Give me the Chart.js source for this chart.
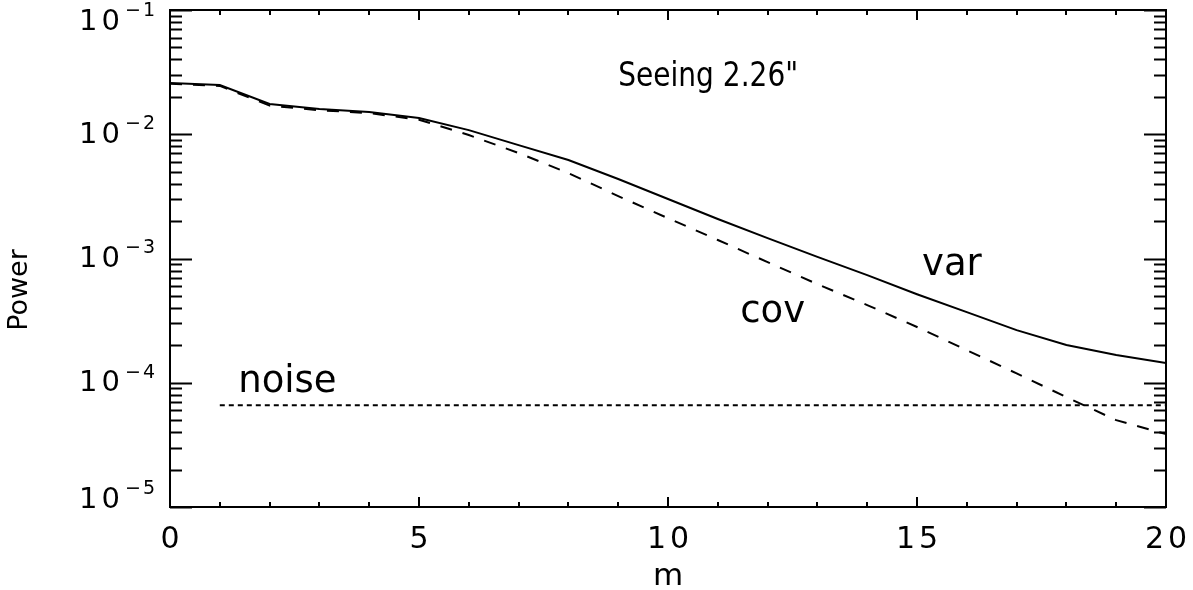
<!DOCTYPE html>
<html>
<head>
<meta charset="utf-8">
<script src="https://cdn.jsdelivr.net/npm/chart.js@4.4.1/dist/chart.umd.min.js"></script>
<style>
  html, body { margin: 0; padding: 0; background: #ffffff; overflow: hidden; }
  #wrap { width: 1193px; height: 590px; position: relative; }
</style>
</head>
<body>
<div id="wrap"><canvas id="powerChart"></canvas></div>
<script>
// Azimuthal mode number m
const modes = [0, 1, 2, 3, 4, 5, 6, 7, 8, 9, 10, 11, 12, 13, 14, 15, 16, 17, 18, 19, 20];

// Power spectrum from the variance of the modes
const varPower = [0.0258, 0.0249, 0.0175, 0.0160, 0.0151, 0.0135, 0.0108, 0.00818, 0.00620, 0.00436,
                  0.00301, 0.00208, 0.00146, 0.00103, 0.000735, 0.000516, 0.000370, 0.000265, 0.000201, 0.000167, 0.000144];

// Power spectrum from the covariance of the modes
const covPower = [0.0255, 0.0245, 0.0170, 0.0156, 0.0148, 0.0131, 0.00986, 0.00706, 0.00487, 0.00318,
                  0.00211, 0.00141, 0.000935, 0.000622, 0.000422, 0.000281, 0.000183, 0.000119, 0.0000766, 0.0000500, 0.0000386];

// Noise floor, flat over m = 1..20
const noiseModes = [1, 20];
const noisePower = [0.000066, 0.000066];

// Axis ticks and titles
const xTickValues = [0, 5, 10, 15, 20];
const yDecadeExponents = [-5, -4, -3, -2, -1];
const xTitle = 'm';
const yTitle = 'Power';

// Text inside the plot: left end and baseline in data coordinates
const plotTexts = [
  { text: 'Seeing 2.26"', m: 9.0, p: 0.0245, size: 33, squeeze: 0.85 },
  { text: 'var', m: 15.1, p: 0.000735, size: 37, squeeze: 1 },
  { text: 'cov', m: 11.45, p: 0.000308, size: 37, squeeze: 1 },
  { text: 'noise', m: 1.37, p: 0.000084, size: 37, squeeze: 1 }
];

const FONT = "'DejaVu Sans', 'Liberation Sans', sans-serif";
const INK = '#000000';

function setSpacing(ctx, px) {
  if ('letterSpacing' in ctx) ctx.letterSpacing = px + 'px';
}

// Frame, inward tick marks on all four sides, axis labels and in-plot text
const framePlugin = {
  id: 'framePlugin',
  afterDraw(chart) {
    const ctx = chart.ctx;
    const a = chart.chartArea;
    const xs = chart.scales.x;
    const ys = chart.scales.y;
    ctx.save();
    ctx.strokeStyle = INK;
    ctx.lineWidth = 2;
    ctx.lineCap = 'butt';

    ctx.beginPath();
    // x ticks: major every 5, minor every 1
    for (let v = xs.min; v <= xs.max; v += 1) {
      const px = Math.round(xs.getPixelForValue(v));
      const len = (v % 5 === 0) ? 10 : 5;
      ctx.moveTo(px, a.bottom); ctx.lineTo(px, a.bottom - len);
      ctx.moveTo(px, a.top); ctx.lineTo(px, a.top + len);
    }
    // y ticks: decades long, 2..9 short
    for (let e = yDecadeExponents[0]; e <= yDecadeExponents[yDecadeExponents.length - 1]; e++) {
      for (let k = 1; k <= 9; k++) {
        const val = k * Math.pow(10, e);
        if (val < ys.min * 0.999 || val > ys.max * 1.001) continue;
        const py = Math.round(ys.getPixelForValue(val)) + 0.5;
        const len = (k === 1) ? 22 : 12;
        ctx.moveTo(a.left, py); ctx.lineTo(a.left + len, py);
        ctx.moveTo(a.right, py); ctx.lineTo(a.right - len, py);
      }
    }
    ctx.stroke();

    // frame
    ctx.strokeRect(a.left, a.top, a.right - a.left, a.bottom - a.top);

    ctx.fillStyle = INK;

    // decade labels 10^e on the left axis
    ctx.textBaseline = 'middle';
    ctx.textAlign = 'right';
    const rightEdge = a.left - 13;
    yDecadeExponents.forEach(e => {
      let py = ys.getPixelForValue(Math.pow(10, e));
      py = Math.min(Math.max(py, a.top + 11), a.bottom - 8);
      const expText = '\u2212' + Math.abs(e);
      ctx.font = '19px ' + FONT;
      setSpacing(ctx, 2);
      const expW = ctx.measureText(expText).width;
      ctx.fillText(expText, rightEdge, py - 10);
      ctx.font = '29px ' + FONT;
      setSpacing(ctx, 4);
      ctx.fillText('10', rightEdge - expW - 1, py + 1);
    });

    // x tick labels
    ctx.textBaseline = 'alphabetic';
    ctx.font = '30px ' + FONT;
    setSpacing(ctx, 4);
    xTickValues.forEach(v => {
      const px = xs.getPixelForValue(v);
      const label = String(v);
      const w = ctx.measureText(label).width;
      ctx.textAlign = 'left';
      ctx.fillText(label, px - (w - 4) / 2, a.bottom + 41);
    });

    // axis titles
    setSpacing(ctx, 0);
    ctx.textAlign = 'center';
    ctx.font = '31px ' + FONT;
    ctx.fillText(xTitle, (a.left + a.right) / 2, a.bottom + 78);
    ctx.save();
    ctx.translate(27, 290);
    ctx.rotate(-Math.PI / 2);
    ctx.font = '27px ' + FONT;
    ctx.fillText(yTitle, 0, 0);
    ctx.restore();

    // in-plot text
    ctx.textAlign = 'left';
    plotTexts.forEach(t => {
      ctx.save();
      ctx.font = t.size + 'px ' + FONT;
      ctx.translate(xs.getPixelForValue(t.m), ys.getPixelForValue(t.p));
      ctx.scale(t.squeeze, 1);
      ctx.fillText(t.text, 0, 0);
      ctx.restore();
    });
    ctx.restore();
  }
};

const ctx = document.getElementById('powerChart').getContext('2d');
new Chart(ctx, {
  type: 'line',
  data: {
    datasets: [
      {
        label: 'var',
        data: modes.map((m, i) => ({ x: m, y: varPower[i] })),
        borderColor: INK, borderWidth: 2, pointRadius: 0, tension: 0, fill: false
      },
      {
        label: 'cov',
        data: modes.map((m, i) => ({ x: m, y: covPower[i] })),
        borderColor: INK, borderWidth: 2, borderDash: [12, 11], pointRadius: 0, tension: 0, fill: false
      },
      {
        label: 'noise',
        data: noiseModes.map((m, i) => ({ x: m, y: noisePower[i] })),
        borderColor: INK, borderWidth: 2, borderDash: [5, 4], pointRadius: 0, tension: 0, fill: false
      }
    ]
  },
  options: {
    responsive: true,
    maintainAspectRatio: false,
    animation: false,
    devicePixelRatio: 1,
    layout: { padding: { top: 10, right: 27, left: 0, bottom: 0 } },
    plugins: { legend: { display: false }, tooltip: { enabled: false } },
    scales: {
      x: {
        type: 'linear',
        min: 0, max: 20,
        ticks: { display: false },
        grid: { display: false, drawTicks: false },
        border: { display: false },
        afterFit: s => { s.height = 83; }
      },
      y: {
        type: 'logarithmic',
        min: 1e-5, max: 1e-1,
        ticks: { display: false },
        grid: { display: false, drawTicks: false },
        border: { display: false },
        afterFit: s => { s.width = 170; }
      }
    }
  },
  plugins: [framePlugin]
});
</script>
</body>
</html>
